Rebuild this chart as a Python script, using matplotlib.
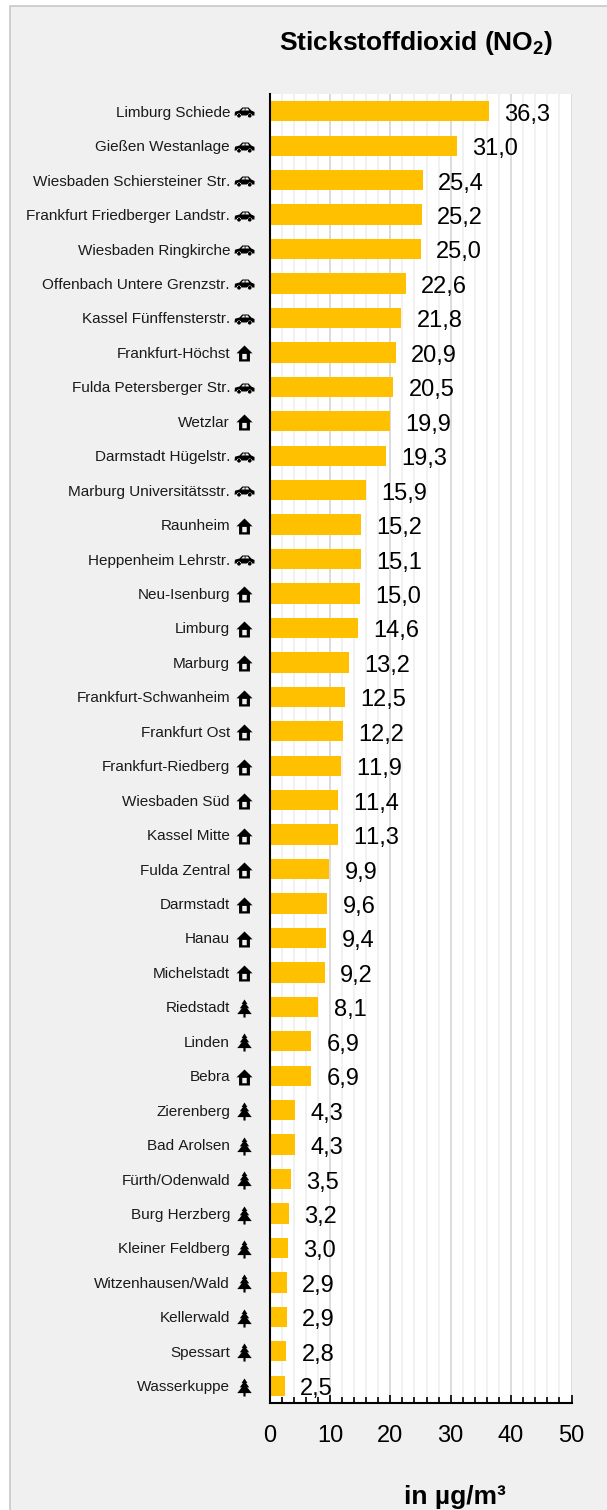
import matplotlib
matplotlib.use("Agg")
import matplotlib.pyplot as plt
from matplotlib.path import Path
from matplotlib.patches import Rectangle
from matplotlib.transforms import blended_transform_factory, Affine2D
from matplotlib.ticker import MultipleLocator

stations = ["Limburg Schiede", "Gießen Westanlage", "Wiesbaden Schiersteiner Str.",
            "Frankfurt Friedberger Landstr.", "Wiesbaden Ringkirche", "Offenbach Untere Grenzstr.",
            "Kassel Fünffensterstr.", "Frankfurt-Höchst", "Fulda Petersberger Str.", "Wetzlar",
            "Darmstadt Hügelstr.", "Marburg Universitätsstr.", "Raunheim", "Heppenheim Lehrstr.",
            "Neu-Isenburg", "Limburg", "Marburg", "Frankfurt-Schwanheim", "Frankfurt Ost",
            "Frankfurt-Riedberg", "Wiesbaden Süd", "Kassel Mitte", "Fulda Zentral", "Darmstadt",
            "Hanau", "Michelstadt", "Riedstadt", "Linden", "Bebra", "Zierenberg", "Bad Arolsen",
            "Fürth/Odenwald", "Burg Herzberg", "Kleiner Feldberg", "Witzenhausen/Wald",
            "Kellerwald", "Spessart", "Wasserkuppe"]
values = [36.3, 31.0, 25.4, 25.2, 25.0, 22.6, 21.8, 20.9, 20.5, 19.9, 19.3, 15.9, 15.2, 15.1,
          15.0, 14.6, 13.2, 12.5, 12.2, 11.9, 11.4, 11.3, 9.9, 9.6, 9.4, 9.2, 8.1, 6.9, 6.9,
          4.3, 4.3, 3.5, 3.2, 3.0, 2.9, 2.9, 2.8, 2.5]
kinds = ["car"] * 7 + ["house", "car", "house", "car", "car", "house", "car"] + ["house"] * 12 + \
        ["tree", "tree", "house"] + ["tree"] * 9

W, H = 607, 1510
plt.rcParams["font.family"] = ["Liberation Sans", "DejaVu Sans"]
plt.rcParams["text.kerning_factor"] = 10
plt.rcParams["mathtext.fontset"] = "custom"
plt.rcParams["mathtext.bf"] = "Liberation Sans:bold"
plt.rcParams["mathtext.rm"] = "Liberation Sans"

fig = plt.figure(figsize=(W / 100, H / 100), dpi=100, facecolor="white")
fig.add_artist(Rectangle((9.5 / W, -0.01), 1, 1.01 - 5.5 / H, transform=fig.transFigure,
                         facecolor="#f0f0f0", edgecolor="#c8c8c8", linewidth=1.2, zorder=-5))

ax = fig.add_axes([269.5 / W, 1 - 1403 / H, 302 / W, (1403 - 94) / H], zorder=2)
ax.set_facecolor("white")
pos = list(range(len(values)))
ax.barh(pos, values, height=0.59, color="#ffc000", zorder=3)
ax.set_xlim(0, 50)
ax.set_ylim(len(values) - 0.5, -0.5)

ax.xaxis.set_major_locator(MultipleLocator(10))
ax.xaxis.set_minor_locator(MultipleLocator(2))
ax.grid(True, which="major", axis="x", color="#d9d9d9", linewidth=1.3, zorder=1)
ax.grid(True, which="minor", axis="x", color="#f0f0f0", linewidth=1.3, zorder=1)
ax.set_axisbelow(True)
for s in ("top", "right"):
    ax.spines[s].set_visible(False)
for s in ("left", "bottom"):
    ax.spines[s].set_linewidth(1.5)
    ax.spines[s].set_color("black")
    ax.spines[s].set_zorder(5)
ax.tick_params(axis="x", which="major", direction="in", length=6, width=1.2, pad=16,
               labelsize=17, color="black")
ax.tick_params(axis="x", which="minor", direction="in", length=4, width=1.2, color="black")
ax.set_yticks([])

value_labels = ax.bar_label(ax.containers[0], labels=[f"{v:.1f}".replace(".", ",") for v in values],
                            padding=11, fontsize=17, color="black", zorder=7, clip_on=False)
for lab in value_labels:
    x_off, y_off = lab.xyann
    lab.xyann = (x_off, y_off - 2.5)

for p, name in zip(pos, stations):
    ax.annotate(name, xy=(0, p), xycoords=("axes fraction", "data"), xytext=(-39.5, -1.5),
                textcoords="offset pixels", ha="right", va="center", fontsize=11.0,
                color="#1a1a1a")


def poly(points):
    return Path(points + [points[0]], closed=True)


def wheel(x, y, r):
    return Path(Path.unit_circle().vertices * r + (x, y), Path.unit_circle().codes)


car = Path.make_compound_path(
    poly([(-1, -.3), (-.95, .08), (-.5, .2), (-.22, .5), (.4, .5), (.68, .2), (1, .05), (1, -.3),
          (.78, -.3), (.62, -.12), (.42, -.12), (.28, -.3), (-.3, -.3), (-.44, -.12), (-.66, -.12),
          (-.8, -.3)]),
    poly([(-.32, .2), (.02, .2), (.02, .4), (-.14, .4)]),
    poly([(.1, .2), (.46, .2), (.34, .4), (.1, .4)]),
    wheel(-.55, -.32, .19),
    wheel(.52, -.32, .19),
)
house = Path.make_compound_path(
    poly([(-1, .02), (0, 1), (1, .02), (.68, .02), (.68, -1), (-.68, -1), (-.68, .02)]),
    poly([(-.28, -.72), (.28, -.72), (.28, -.05), (-.28, -.05)]),
)
tree = poly([(0, 1), (.32, .5), (.17, .5), (.52, .02), (.3, .02), (.8, -.62), (.12, -.62), (.12, -1),
             (-.12, -1), (-.12, -.62), (-.8, -.62), (-.3, .02), (-.52, .02), (-.17, .5), (-.32, .5)])
icons = {"car": car, "house": house, "tree": tree}
sizes = {"car": 207, "house": 133, "tree": 169}
icon_tf = blended_transform_factory(ax.transAxes, ax.transData) + Affine2D().translate(0, -1)
icon_x = (244 - 269.5) / 302
for kind, path in icons.items():
    ys = [p for p, k in zip(pos, kinds) if k == kind]
    ax.scatter([icon_x] * len(ys), ys, marker=path, s=sizes[kind], color="black", linewidths=0,
               transform=icon_tf, clip_on=False, zorder=6)

fig.text(416.5 / W, 1 - 43 / H, r"Stickstoffdioxid (NO$_{\mathbf{2}}$)", ha="center", va="center",
         fontsize=19, fontweight="bold", color="black")
fig.text(455 / W, 1 - 1497 / H, "in µg/m³", ha="center", va="center", fontsize=19,
         fontweight="bold", color="black")

fig.savefig("out.png", dpi=100, facecolor=fig.get_facecolor())
